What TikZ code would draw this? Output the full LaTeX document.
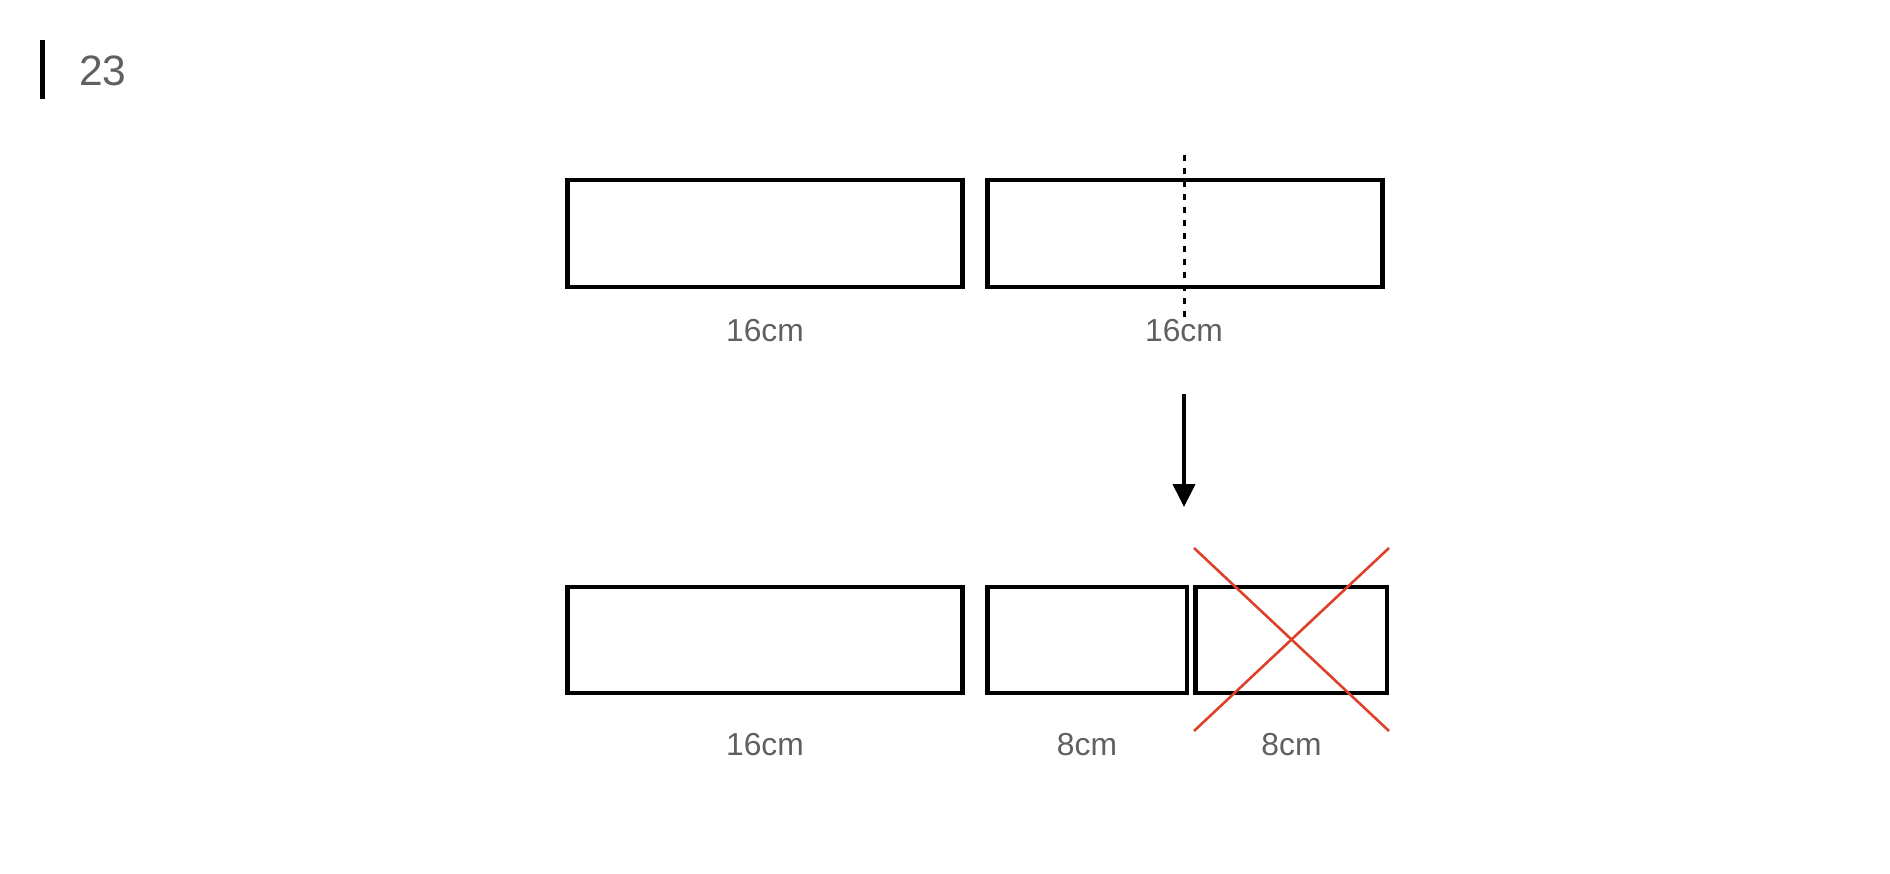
\documentclass[tikz,border=0pt]{standalone}
\usepackage{fontspec}
\setmainfont{Liberation Sans}
\usetikzlibrary{arrows.meta}
\definecolor{labelgray}{RGB}{96,96,96}
\definecolor{crossred}{RGB}{222,64,42}
\begin{document}
\begin{tikzpicture}[x=1pt,y=-1pt,
  bar/.style={draw=black,line width=4.7pt,rectangle,inner sep=0pt,outer sep=0pt},
  lbl/.style={text=labelgray,font=\fontsize{31.8}{38}\selectfont,anchor=base,inner sep=0pt},
  crossline/.style={draw=crossred,line width=2.6pt},
  cutline/.style={draw=black,line width=3pt,dash pattern=on 6pt off 7pt},
  arrowline/.style={draw=black,line width=4pt,-{Triangle[width=22pt,length=23pt]}}]
\useasboundingbox (0,0) rectangle (1890,874);
% page marker
\draw[line width=5pt] (42.5,40) -- (42.5,99);
\node[text=labelgray,font=\fontsize{42.5}{48}\selectfont,anchor=base west,inner sep=0pt] (pagenum) at (79,86) {23};
% top row
\node[bar,minimum width=395pt,minimum height=107pt] (ta) at (765,233.5) {};
\node[bar,minimum width=395pt,minimum height=107pt] (tb) at (1185,233.5) {};
\node[lbl] (lta) at (765,342) {16cm};
\node[lbl] (ltb) at (1184,342) {16cm};
\coordinate (cuttop) at (1184,155);
\coordinate (cutbot) at (1184,317);
\draw[cutline] (cuttop) -- (cutbot);
% arrow
\coordinate (arrs) at (1184,394);
\coordinate (arre) at (1184,507);
\draw[arrowline] (arrs) -- (arre);
% bottom row
\node[bar,minimum width=395pt,minimum height=106pt] (ba) at (765,640) {};
\node[bar,minimum width=199.6pt,minimum height=106pt] (bb) at (1087.2,640) {};
\node[bar,minimum width=191.3pt,minimum height=106pt] (bc) at (1291.3,640) {};
\node[lbl] (lba) at (765,755) {16cm};
\node[lbl] (lbb) at (1087,755) {8cm};
\node[lbl] (lbc) at (1291.5,755) {8cm};
% red cross
\coordinate (x1) at (1194,548);
\coordinate (x2) at (1389,731);
\coordinate (x3) at (1389,548);
\coordinate (x4) at (1194,731);
\draw[crossline] (x1) -- (x2);
\draw[crossline] (x3) -- (x4);
\end{tikzpicture}
\end{document}
